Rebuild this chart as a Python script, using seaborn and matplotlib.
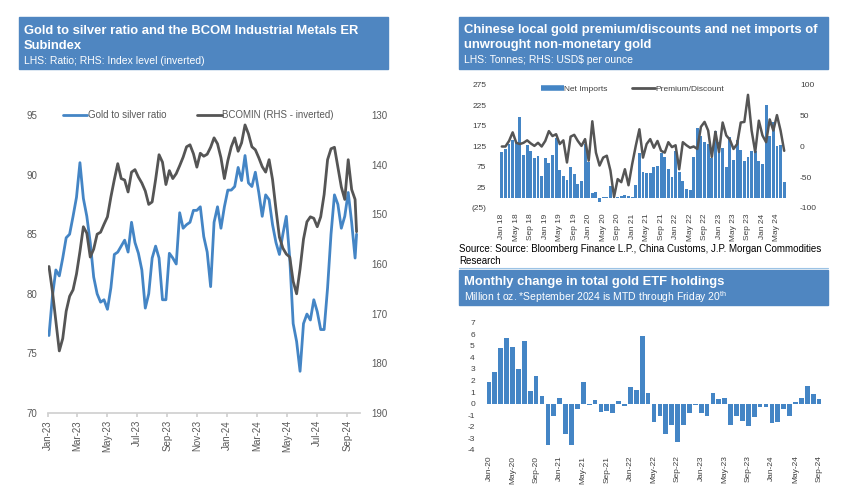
import numpy as np
import pandas as pd
import seaborn as sns
import matplotlib.pyplot as plt
import matplotlib.dates as mdates
from matplotlib.patches import Rectangle
from matplotlib.lines import Line2D

sns.set_theme(style='white')
plt.rcParams['font.family'] = ['Liberation Sans', 'DejaVu Sans']
plt.rcParams['mathtext.fontset'] = 'custom'
plt.rcParams['mathtext.rm'] = 'Liberation Sans'
plt.rcParams['axes.unicode_minus'] = False

BOX = '#4f86c1'
BLUE = '#4485c5'
GREY = '#555555'
TXT = '#404040'

# Gold/silver ratio and BCOMIN, weekly readings Jan 2023 - Sep 2024
week_dates = pd.date_range('2023-01-03', '2024-09-17', freq='7D').append(pd.DatetimeIndex(['2024-09-20']))
gsr = [76.5, 79.8, 82.0, 81.5, 83.0, 84.7, 85.0, 86.5, 88.1, 91.0,
       88.0, 86.5, 84.3, 81.4, 80.0, 79.3, 79.5, 78.7, 80.5, 83.3,
       83.5, 84.0, 84.5, 83.5, 86.0, 84.3, 83.4, 82.0, 78.8, 80.0,
       83.0, 84.0, 83.0, 79.5, 79.5, 83.4, 83.0, 82.5, 86.8, 85.5,
       85.8, 86.0, 87.0, 87.0, 87.3, 84.8, 83.5, 80.6, 86.0, 87.3,
       85.5, 87.3, 88.7, 88.7, 89.0, 90.6, 89.5, 91.6, 89.3, 89.0,
       90.2, 88.5, 86.5, 88.3, 87.9, 85.8, 84.3, 83.3, 85.0, 86.5,
       83.0, 77.5, 76.0, 73.5, 77.5, 78.3, 77.8, 79.5, 78.5, 77.0,
       77.0, 80.5, 85.0, 88.3, 87.5, 85.5, 86.5, 88.5, 86.0, 83.0,
       85.0]
bcomin = [160.5, 165.5, 171.5, 177.5, 175.0, 169.5, 166.5, 165.2, 162.0, 157.5,
          152.5, 153.8, 158.6, 157.0, 154.0, 153.6, 152.0, 150.5, 146.5, 143.0,
          139.8, 142.8, 143.1, 145.5, 141.5, 141.0, 142.5, 143.7, 145.3, 148.0,
          147.5, 143.0, 138.0, 139.5, 144.0, 141.2, 142.8, 141.8, 140.2, 138.5,
          136.4, 136.0, 137.8, 140.5, 137.7, 138.3, 137.9, 136.5, 134.6, 135.8,
          138.6, 142.8, 139.2, 136.4, 134.6, 137.3, 135.6, 132.0, 133.8, 136.4,
          137.0, 138.6, 140.4, 141.5, 139.0, 143.0, 149.0, 154.6, 156.8, 158.0,
          158.6, 163.5, 166.0, 161.0, 155.0, 151.5, 150.5, 150.8, 152.5, 150.5,
          146.0, 139.0, 136.8, 136.5, 140.5, 144.5, 147.0, 139.0, 145.0, 147.0,
          153.5]

# Chinese net imports (t) and local premium (USD/oz), Jan 2018 - Jul 2024
ni_months = pd.date_range('2018-01-01', '2024-07-01', freq='MS')
net_imports = [112, 120, 131, 141, 136, 197, 105, 129, 115, 97, 103, 54,
               96, 85, 104, 145, 67, 54, 44, 76, 58, 33, 41, 131,
               86, 11, 13, -11, 1, 2, 29, 9, 2, 5, 7, 5,
               3, 32, 108, 63, 61, 60, 74, 77, 108, 100, 70, 51,
               115, 63, 41, 21, 19, 100, 170, 150, 137, 131, 96, 163,
               137, 121, 74, 147, 92, 141, 116, 90, 100, 115, 115, 89,
               82, 226, 150, 185, 125, 128, 38]
premium = [0, 0, 9, 23, 6, 4, 6, 10, 5, 1, 6, 0,
           9, 25, 17, 20, 4, 10, -26, 16, 19, 9, 1, 12,
           -23, 41, -10, -31, -18, -15, -39, -82, -53, -58, -37, -63,
           -29, 1, 28, -18, 4, 12, -2, 9, -7, -10, 7, -1,
           2, -37, 7, 2, -2, 0, -4, 32, 40, 26, -17, 24,
           -9, 39, 18, 11, -4, 4, 39, 40, 84, 26, -9, 42,
           18, 7, 44, 26, 51, 26, -7]

# Monthly change in gold ETF holdings (Moz), Jan 2020 - Sep 2024
etf_months = pd.date_range('2020-01-01', '2024-09-01', freq='MS')
etf_change = [1.9, 2.7, 4.8, 5.7, 4.9, 3.0, 5.4, 1.1, 2.35, 0.64, -3.6, -1.1,
              0.5, -2.6, -3.6, -0.5, 1.85, -0.15, 0.3, -0.75, -0.6, -0.8, 0.23, -0.23,
              1.4, 1.2, 5.8, 0.96, -1.6, -1.05, -2.6, -1.85, -3.3, -1.85, -0.8, -0.1,
              -0.85, -1.1, 0.93, 0.4, 0.5, -1.8, -1.1, -1.5, -1.9, -1.15, -0.3, -0.3,
              -1.65, -1.6, -0.45, -1.05, 0.17, 0.5, 1.5, 0.85, 0.38]

W, H = 868, 500
fig = plt.figure(figsize=(W / 100, H / 100), dpi=100)


def fx(px):
    return px / W


def fy(py):
    return 1 - py / H


def title_box(x0, y0, x1, y1, lines):
    fig.add_artist(Rectangle((fx(x0), fy(y1)), fx(x1) - fx(x0), (y1 - y0) / H,
                             transform=fig.transFigure, color=BOX, zorder=0))
    for text, yc, size, weight in lines:
        fig.text(fx(x0 + 5), fy(yc), text, color='white', fontsize=size,
                 fontweight=weight, va='center', ha='left')


# ---------- left panel ----------
title_box(19, 17, 388, 69, [
    ('Gold to silver ratio and the BCOM Industrial Metals ER', 31, 9.4, 'bold'),
    ('Subindex', 46, 9.4, 'bold'),
    ('LHS: Ratio; RHS: Index level (inverted)', 61, 7.5, 'normal')])

ax = fig.add_axes([fx(48), fy(413), fx(360) - fx(48), (413 - 115) / H])
sns.lineplot(x=week_dates, y=gsr, color=BLUE, lw=2, ax=ax)
ax.set_ylim(70, 95)
ax.set_yticks([70, 75, 80, 85, 90, 95])
ax2 = ax.twinx()
sns.lineplot(x=week_dates, y=bcomin, color=GREY, lw=2, ax=ax2)
ax2.set_ylim(190, 130)
ax2.set_yticks([130, 140, 150, 160, 170, 180, 190])
ax.set_xlim(pd.Timestamp('2023-01-01'), pd.Timestamp('2024-09-27'))
ax.xaxis.set_major_locator(mdates.MonthLocator(bymonth=[1, 3, 5, 7, 9, 11]))
ax.xaxis.set_major_formatter(mdates.DateFormatter('%b-%y'))
for a in (ax, ax2):
    a.set_xlabel('')
    a.set_ylabel('')
    for s in a.spines.values():
        s.set_visible(False)
ax.spines['bottom'].set_visible(True)
ax.spines['bottom'].set_color('#d0d0d0')
ax.tick_params(axis='x', rotation=90, labelsize=7, colors='#d0d0d0', labelcolor='#595959',
               length=3, pad=2, bottom=True)
ax.tick_params(axis='y', labelsize=7, labelcolor='#595959', length=0, pad=8)
ax2.tick_params(axis='y', labelsize=7, labelcolor='#595959', length=0, pad=8)
ax.legend(handles=[Line2D([], [], color=BLUE, lw=2), Line2D([], [], color=GREY, lw=2)],
          labels=['Gold to silver ratio', 'BCOMIN (RHS - inverted)'],
          loc='center left', bbox_to_anchor=(fx(63), fy(115)), bbox_transform=fig.transFigure,
          ncol=2, frameon=False, fontsize=7, handlelength=2.5, handletextpad=0.05,
          columnspacing=3.2, labelcolor='#595959', borderaxespad=0, borderpad=0)

# ---------- top right panel ----------
title_box(459, 17, 828, 69, [
    ('Chinese local gold premium/discounts and net imports of', 30, 9.4, 'bold'),
    ('unwrought non-monetary gold', 45, 9.4, 'bold'),
    ('LHS: Tonnes; RHS: USD$ per ounce', 60, 7.5, 'normal')])

axb = fig.add_axes([fx(500), fy(208), 286 / W, (208 - 85) / H])
df_ni = pd.DataFrame({'month': ni_months.strftime('%b %y'), 'imports': net_imports})
sns.barplot(data=df_ni, x='month', y='imports', color=BLUE, saturation=1, width=0.8,
            linewidth=0, edgecolor='none', ax=axb)
axb.set_ylim(-25, 275)
axb.set_yticks([-25, 25, 75, 125, 175, 225, 275])
axb.set_yticklabels(['(25)', '25', '75', '125', '175', '225', '275'])
axr = axb.twinx()
sns.lineplot(x=np.arange(len(premium)), y=premium, color=GREY, lw=1.8, ax=axr)
axr.set_ylim(-100, 100)
axr.set_yticks([-100, -50, 0, 50, 100])
axb.set_xlim(-0.5, len(net_imports) - 0.5)
axb.set_xticks(range(0, len(net_imports), 4))
axb.set_xticklabels(df_ni['month'][::4])
for a in (axb, axr):
    a.set_xlabel('')
    a.set_ylabel('')
    for s in a.spines.values():
        s.set_visible(False)
axb.tick_params(axis='x', rotation=90, labelsize=6, labelcolor=TXT, length=0, pad=4)
axb.tick_params(axis='y', labelsize=6, labelcolor=TXT, length=0, pad=10)
axr.tick_params(axis='y', labelsize=6, labelcolor=TXT, length=0, pad=10)
axb.legend(handles=[Line2D([], [], color=BLUE, lw=4, solid_capstyle='butt'),
                    Line2D([], [], color=GREY, lw=2)],
           labels=['Net Imports', 'Premium/Discount'],
           loc='center left', bbox_to_anchor=(fx(541), fy(89)), bbox_transform=fig.transFigure,
           ncol=2, frameon=False, fontsize=6, handlelength=2.7, handletextpad=0.05,
           columnspacing=3.0, labelcolor=TXT, borderaxespad=0, borderpad=0)

fig.text(fx(459), fy(249), 'Source: Source: Bloomberg Finance L.P., China Customs, J.P. Morgan Commodities',
         fontsize=7, color='black', va='center', ha='left')
fig.text(fx(459), fy(261), 'Research', fontsize=7, color='black', va='center', ha='left')
fig.add_artist(Line2D([fx(459), fx(828)], [fy(268), fy(268)], color='#9cc3e5', lw=0.8,
                      transform=fig.transFigure))

# ---------- bottom right panel ----------
title_box(459, 270, 828, 305, [
    ('Monthly change in total gold ETF holdings', 282, 9.4, 'bold'),
    (r'Million t oz. *September 2024 is MTD through Friday 20$^{\mathrm{th}}$', 297, 7.5, 'normal')])

axe = fig.add_axes([fx(486), fy(450), 336 / W, (450 - 322.5) / H])
df_etf = pd.DataFrame({'month': etf_months.strftime('%b-%y'), 'change': etf_change})
sns.barplot(data=df_etf, x='month', y='change', color=BLUE, saturation=1, width=0.8,
            linewidth=0, edgecolor='none', ax=axe)
axe.set_ylim(-4, 7)
axe.set_yticks(range(-4, 8))
axe.set_xlim(-0.5, len(etf_change) - 0.5)
axe.set_xticks(range(0, len(etf_change), 4))
axe.set_xticklabels(df_etf['month'][::4])
axe.set_xlabel('')
axe.set_ylabel('')
for s in axe.spines.values():
    s.set_visible(False)
axe.tick_params(axis='x', rotation=90, labelsize=6, labelcolor=TXT, length=0, pad=4)
axe.tick_params(axis='y', labelsize=6, labelcolor=TXT, length=0, pad=8)

fig.savefig('out.png', dpi=100)
